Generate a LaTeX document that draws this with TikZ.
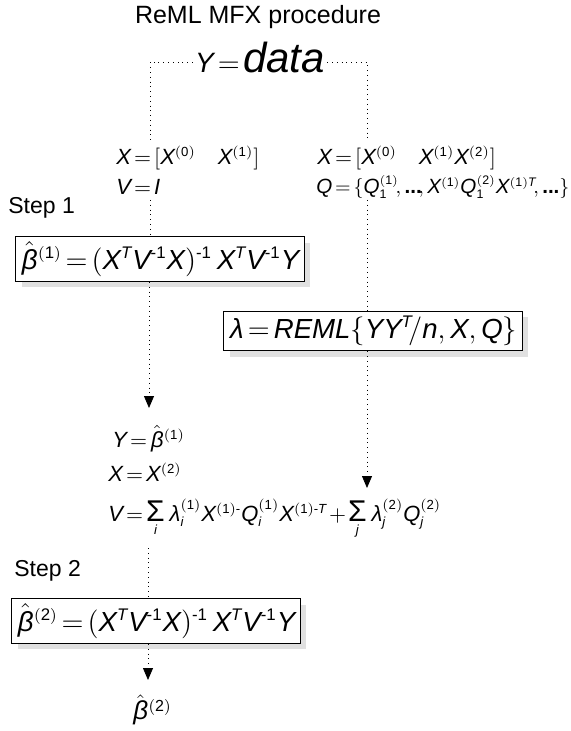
\documentclass[tikz,border=0pt]{standalone}
\usepackage{amsmath}
\usepackage{mathspec}
\setmainfont{Liberation Sans}
\setmathsfont(Digits,Latin,Greek){Liberation Sans}
\usetikzlibrary{arrows.meta,positioning,shadows}
\DeclareMathSizes{10.3}{10.3}{6.2}{5}
\DeclareMathSizes{11}{11}{6.6}{5}
\DeclareMathSizes{13.8}{13.8}{8.4}{6}
\DeclareMathSizes{13}{13}{8}{6}
\newcommand\hy{\text{-}}
\newcommand\bigsum{\mathop{\text{\fontsize{15}{15}\selectfont$\Sigma$}}\limits}
\newcommand\dts{\text{\textbf{...}}}

\begin{document}
\begin{tikzpicture}[x=0.5pt,y=-0.5pt,
  dotline/.style={dotted,line width=0.4pt},
  dotarr/.style={dotted,line width=0.4pt,-{Triangle[width=5pt,length=6pt]}},
  eqbox/.style={draw,line width=0.6pt,fill=white,inner sep=2.5pt,
    font=\fontsize{13.8}{15}\selectfont,
    drop shadow={shadow xshift=3pt,shadow yshift=-3pt,fill=black!12,opacity=1}},
  small/.style={font=\fontsize{11}{14.5}\selectfont,inner sep=0pt},
  steplabel/.style={font=\fontsize{11.5}{13}\selectfont,inner sep=0pt},
  every node/.append style={execute at begin node={\thickmuskip=2.5mu\medmuskip=1.5mu}}]
  \useasboundingbox (0,0) rectangle (570,731);

  \node[font=\fontsize{12.5}{14}\selectfont] (title) at (258,17) {ReML MFX procedure};
  \node[inner sep=1pt] (ydata) at (260,58)
    {{\fontsize{14}{16}\selectfont$Y=$}\,{\fontsize{21}{24}\selectfont\itshape data}};

  % first level
  \node[small,anchor=west] (lx) at (116,158) {$X=[X^{(0)}\quad X^{(1)}]$};
  \node[small,anchor=west] (lv) at (116,187) {$V=I$};
  \node[small,anchor=west] (rx) at (317,158) {$X=[X^{(0)}\quad X^{(1)}X^{(2)}]$};
  \node[small,anchor=west,font=\fontsize{10.3}{14}\selectfont] (rq) at (316,187)
    {$Q=\{Q_1^{(1)}\!,\dts\!,X^{(1)}Q_1^{(2)}X^{(1)T}\!,\dts\}$};
  \coordinate (ltop) at (150,140);
  \coordinate (rtop) at (367,140);
  \draw[dotline] ([yshift=-2pt]ydata.west) -| (ltop);
  \draw[dotline] ([yshift=-2pt]ydata.east) -| (rtop);

  \node[steplabel,anchor=west] (step1) at (8,208) {Step 1};
  \node[eqbox] (b1) at (160,259)
    {$\hat{\beta}{}^{(1)}=(X^TV^{\hy1}X)^{\hy1}\,X^TV^{\hy1}Y$};
  \node[eqbox] (b2) at (373,331) {$\lambda=REML\{YY^T\!/n,X,Q\}$};

  \coordinate (lmid) at (150,200);
  \coordinate (rmid) at (367,200);
  \draw[dotline] (lmid) -- (lmid |- b1.north);
  \draw[dotline] (rmid) -- (rmid |- b2.north);

  % second level
  \coordinate (ltip) at (149,408);
  \coordinate (rtip) at (367,488);
  \draw[dotarr] (b1.south -| ltip) -- (ltip);
  \draw[dotarr] (b2.south -| rtip) -- (rtip);

  \node[small,anchor=base west] (yb) at (112,447) {$Y=\hat{\beta}{}^{(1)}$};
  \node[small,anchor=base west] (xb) at (108,481) {$X=X^{(2)}$};
  \node[small,anchor=base west] (vb) at (108,521)
    {$V=\bigsum_i\lambda_i^{(1)}X^{(1)\hy}Q_i^{(1)}X^{(1)\hy T}+\bigsum_j\lambda_j^{(2)}Q_j^{(2)}$};

  \node[steplabel,anchor=west] (step2) at (14,571) {Step 2};
  \node[eqbox] (b3) at (156,621)
    {$\hat{\beta}{}^{(2)}=(X^TV^{\hy1}X)^{\hy1}\,X^TV^{\hy1}Y$};

  \coordinate (lmid2) at (148,548);
  \coordinate (ftip) at (148,680);
  \draw[dotline] (lmid2) -- (lmid2 |- b3.north);
  \draw[dotarr] (b3.south -| ftip) -- (ftip);

  \node[font=\fontsize{13}{15}\selectfont] (bfin) at (152,710) {$\hat{\beta}{}^{(2)}$};
\end{tikzpicture}
\end{document}
